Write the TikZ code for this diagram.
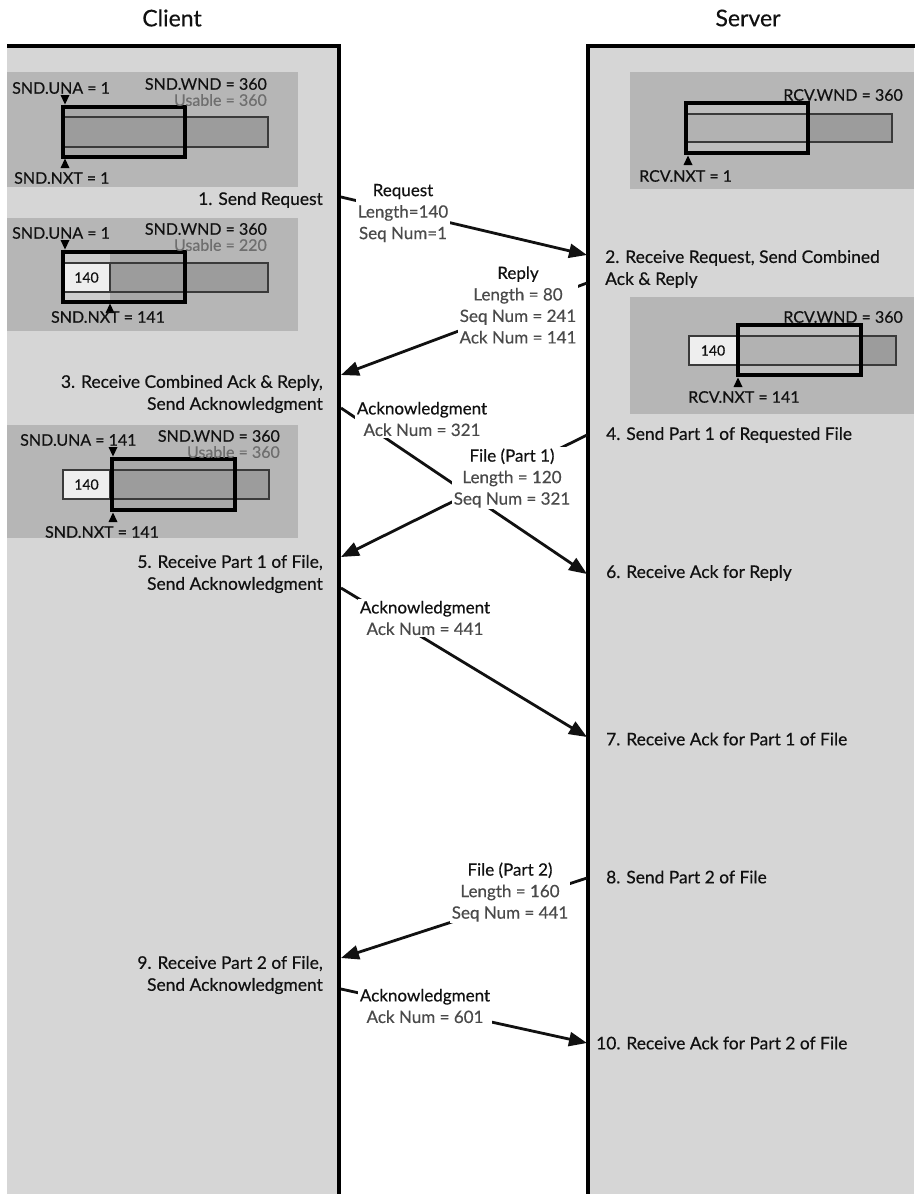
\documentclass[tikz,border=0pt]{standalone}
\usepackage{fontspec}
\setmainfont{Lato}[FakeBold=0.4]
\usetikzlibrary{arrows.meta}
\definecolor{colgray}{HTML}{D6D6D6}
\definecolor{panelgray}{HTML}{B6B6B6}
\definecolor{bargray}{HTML}{9C9C9C}
\definecolor{barlight}{HTML}{B2B2B2}
\definecolor{wingray}{HTML}{A8A8A8}
\definecolor{winlight}{HTML}{CDCDCD}
\definecolor{srvwin}{HTML}{BEBEBE}
\definecolor{segwhite}{HTML}{EEEEEE}
\definecolor{bardark}{HTML}{3A3A3A}
\definecolor{detail}{HTML}{4A4A4A}
\definecolor{usable}{HTML}{6E6E6E}
\definecolor{ink}{HTML}{111111}
\tikzset{
  colfill/.style={fill=colgray},
  colborder/.style={draw=black, line width=3.6pt, line join=miter},
  panel/.style={fill=panelgray},
  barseg/.style={draw=bardark, line width=1.5pt},
  winbox/.style={draw=black, line width=3.8pt},
  tri/.style={fill=black},
  wlab/.style={font=\fontsize{16}{18}\selectfont, inner sep=0pt, text=ink},
  ulab/.style={wlab, text=usable},
  seglab/.style={font=\fontsize{14}{16}\selectfont, inner sep=0pt, text=ink},
  steplab/.style={font=\fontsize{17.4}{22}\selectfont, inner sep=0pt, text=ink},
  msglab/.style={font=\fontsize{17}{21.5}\selectfont, align=center, fill=white, inner sep=1.5pt, text=ink},
  msgarrow/.style={draw=ink, line width=2.8pt, -{Triangle[length=18pt,width=14pt]}},
  title/.style={font=\fontsize{23}{27}\selectfont, text=ink}
}
\begin{document}
\begin{tikzpicture}[x=1pt,y=-1pt]
\useasboundingbox (0,0) rectangle (914,1194);
\fill[white] (0,0) rectangle (914,1194);
% columns
\fill[colfill] (7,46) rectangle (339,1194);
\fill[colfill] (588,46) rectangle (914,1194);
\draw[colborder] (7,46) -- (339,46) -- (339,1196);
\draw[colborder] (916,46) -- (588,46) -- (588,1196);
\node[title] (client) at (172,18) {Client};
\node[title] (server) at (748,18) {Server};

% ---------- client panel 1
\fill[panel] (7,72) rectangle (298,187);
\fill[wingray] (63,107) rectangle (185,157);
\filldraw[barseg, fill=bargray] (63,117) rectangle (268,147);
\draw[winbox] (63,107) rectangle (185,157);
\fill[tri] (60.5,95) -- (69.5,95) -- (65,104.5) -- cycle;
\fill[tri] (60.5,168) -- (69.5,168) -- (65,158.5) -- cycle;
\node[wlab, anchor=west] (una1) at (12,88) {SND.UNA = 1};
\node[wlab, anchor=east] (wnd1) at (267,84) {SND.WND = 360};
\node[ulab, anchor=east] (use1) at (267,100) {Usable = 360};
\node[wlab, anchor=west] (nxt1) at (14,178) {SND.NXT = 1};

% ---------- client panel 2
\fill[panel] (7,218) rectangle (298,331);
\fill[winlight] (63,252) rectangle (110,302);
\fill[wingray] (110,252) rectangle (185,302);
\filldraw[barseg, fill=segwhite] (63,263) rectangle (110,292);
\filldraw[barseg, fill=bargray] (110,263) rectangle (268,292);
\draw[winbox] (63,252) rectangle (185,302);
\fill[tri] (60.5,240) -- (69.5,240) -- (65,249.5) -- cycle;
\fill[tri] (105.5,313) -- (114.5,313) -- (110,303.5) -- cycle;
\node[seglab] (seg2) at (86.5,277.5) {140};
\node[wlab, anchor=west] (una2) at (12,233) {SND.UNA = 1};
\node[wlab, anchor=east] (wnd2) at (267,229) {SND.WND = 360};
\node[ulab, anchor=east] (use2) at (267,245) {Usable = 220};
\node[wlab] (nxt2) at (108,317) {SND.NXT = 141};

% ---------- client panel 3
\fill[panel] (7,425) rectangle (298,538);
\fill[wingray] (112,459) rectangle (235,510);
\filldraw[barseg, fill=segwhite] (63,470) rectangle (110,499);
\filldraw[barseg, fill=bargray] (110,470) rectangle (269,499);
\draw[winbox] (112,459) rectangle (235,510);
\fill[tri] (108.5,447) -- (117.5,447) -- (113,456.5) -- cycle;
\fill[tri] (108.5,522) -- (117.5,522) -- (113,512.5) -- cycle;
\node[seglab] (seg3) at (86.5,484.5) {140};
\node[wlab, anchor=west] (una3) at (20,440) {SND.UNA = 141};
\node[wlab, anchor=east] (wnd3) at (280,436) {SND.WND = 360};
\node[ulab, anchor=east] (use3) at (280,452) {Usable = 360};
\node[wlab] (nxt3) at (102,532) {SND.NXT = 141};

% ---------- server panel 1
\fill[panel] (630,72) rectangle (914,189);
\fill[srvwin] (686,103) rectangle (808,153);
\filldraw[barseg, fill=barlight] (686,114) rectangle (808,142);
\filldraw[barseg, fill=bargray] (808,114) rectangle (892,142);
\draw[winbox] (686,103) rectangle (808,153);
\fill[tri] (683.5,165) -- (692.5,165) -- (688,155.5) -- cycle;
\node[wlab, anchor=east] (rwnd1) at (903,95) {RCV.WND = 360};
\node[wlab, anchor=west] (rnxt1) at (639,176) {RCV.NXT = 1};

% ---------- server panel 2
\fill[panel] (630,297) rectangle (914,414);
\fill[srvwin] (738,325) rectangle (861,375);
\filldraw[barseg, fill=segwhite] (689,336) rectangle (737,365);
\filldraw[barseg, fill=barlight] (737,336) rectangle (861,365);
\filldraw[barseg, fill=bargray] (861,336) rectangle (896,365);
\draw[winbox] (738,325) rectangle (861,375);
\fill[tri] (733.5,387) -- (742.5,387) -- (738,377.5) -- cycle;
\node[seglab] (seg4) at (713,350.5) {140};
\node[wlab, anchor=east] (rwnd2) at (903,317) {RCV.WND = 360};
\node[wlab, anchor=west] (rnxt2) at (688,397) {RCV.NXT = 141};

% ---------- step labels
\node[steplab, anchor=east] (st1) at (323,200) {1. Send Request};
\node[steplab, anchor=west, align=left] (st2) at (605,269) {2. Receive Request, Send Combined\\Ack \& Reply};
\node[steplab, anchor=east, align=right] (st3) at (323,394) {3. Receive Combined Ack \& Reply,\\Send Acknowledgment};
\node[steplab, anchor=west] (st4) at (606,435) {4. Send Part 1 of Requested File};
\node[steplab, anchor=east, align=right] (st5) at (323,574) {5. Receive Part 1 of File,\\Send Acknowledgment};
\node[steplab, anchor=west] (st6) at (606,573) {6. Receive Ack for Reply};
\node[steplab, anchor=west] (st7) at (606,739) {7. Receive Ack for Part 1 of File};
\node[steplab, anchor=west] (st8) at (606,877) {8. Send Part 2 of File};
\node[steplab, anchor=east, align=right] (st9) at (323,975) {9. Receive Part 2 of File,\\Send Acknowledgment};
\node[steplab, anchor=west] (st10) at (596,1043) {10. Receive Ack for Part 2 of File};

% ---------- messages
\coordinate (reqA) at (341,197);  \coordinate (reqB) at (587,255);
\coordinate (repA) at (587,283);  \coordinate (repB) at (341,375);
\coordinate (ak1A) at (341,408);  \coordinate (ak1B) at (587,574);
\coordinate (f1A) at (587,435);   \coordinate (f1B) at (341,557);
\coordinate (ak2A) at (341,588);  \coordinate (ak2B) at (587,737);
\coordinate (f2A) at (587,878);   \coordinate (f2B) at (341,958);
\coordinate (ak3A) at (341,989);  \coordinate (ak3B) at (587,1043);

\draw[msgarrow] (reqA) -- (reqB);
\draw[msgarrow] (repA) -- (repB);
\draw[msgarrow] (ak1A) -- (ak1B);
\draw[msgarrow] (f1A) -- (f1B);
\draw[msgarrow] (ak2A) -- (ak2B);
\draw[msgarrow] (f2A) -- (f2B);
\draw[msgarrow] (ak3A) -- (ak3B);

\node[msglab] (req) at (403,213) {Request\\{\color{detail}Length=140}\\{\color{detail}Seq Num=1}};
\node[msglab] (rep) at (518,305) {Reply\\{\color{detail}Length = 80}\\{\color{detail}Seq Num = 241}\\{\color{detail}Ack Num = 141}};
\node[msglab] (ak1) at (422,419) {Acknowledgment\\{\color{detail}Ack Num = 321}};
\node[msglab] (fp1) at (512,478) {File (Part 1)\\{\color{detail}Length = 120}\\{\color{detail}Seq Num = 321}};
\node[msglab] (ak2) at (425,618) {Acknowledgment\\{\color{detail}Ack Num = 441}};
\node[msglab] (fp2) at (510,892) {File (Part 2)\\{\color{detail}Length = 160}\\{\color{detail}Seq Num = 441}};
\node[msglab] (ak3) at (425,1006) {Acknowledgment\\{\color{detail}Ack Num = 601}};
\end{tikzpicture}
\end{document}
